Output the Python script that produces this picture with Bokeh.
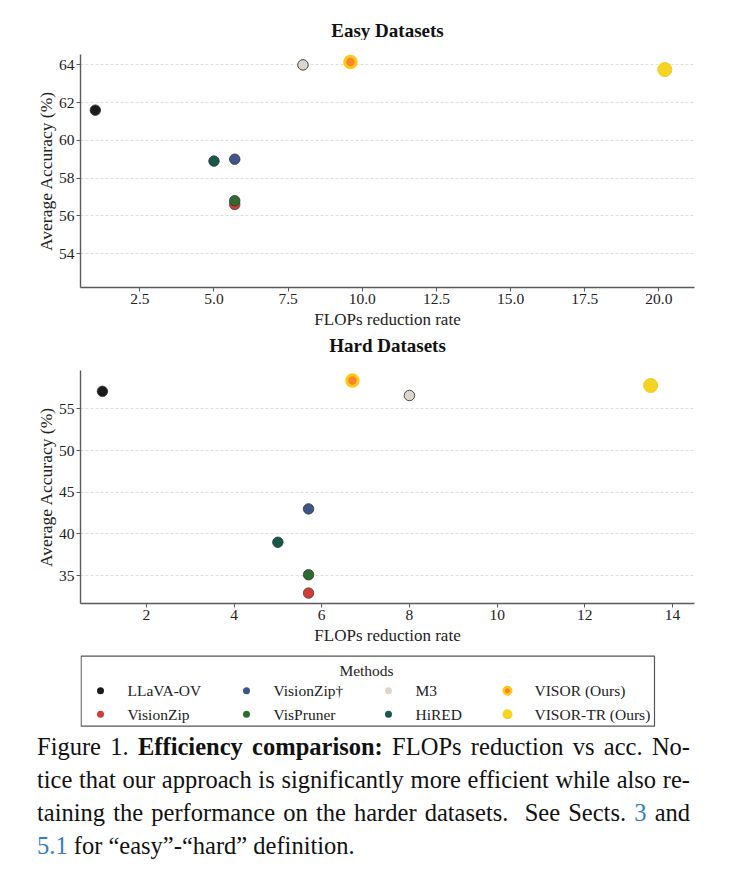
from bokeh.plotting import figure
from bokeh.models import Range1d, FixedTicker, ColumnDataSource, Div, PrintfTickFormatter
from bokeh.layouts import column
from bokeh.embed import file_html
from bokeh.resources import INLINE
from bokeh.core.properties import value

# ---------------- data ----------------
methods = ["LLaVA-OV", "VisionZip", "VisionZip\u2020", "VisPruner", "M3", "HiRED",
           "VISOR (Ours)", "VISOR-TR (Ours)"]
easy_flops = [1.0, 5.7, 5.7, 5.7, 8.0, 5.0, 9.6, 20.2]
easy_acc = [61.6, 56.6, 59.0, 56.8, 64.0, 58.9, 64.15, 63.75]
hard_flops = [1.0, 5.7, 5.7, 5.7, 8.0, 5.0, 6.7, 13.5]
hard_acc = [57.1, 32.9, 43.0, 35.1, 56.6, 39.0, 58.4, 57.8]

easy_xticks = [2.5, 5.0, 7.5, 10.0, 12.5, 15.0, 17.5, 20.0]
easy_yticks = [54, 56, 58, 60, 62, 64]
hard_xticks = [2, 4, 6, 8, 10, 12, 14]
hard_yticks = [35, 40, 45, 50, 55]

titles = ["Easy Datasets", "Hard Datasets"]
x_label = "FLOPs reduction rate"
y_label = "Average Accuracy (%)"
legend_title = "Methods"

# ---------------- styles ----------------
fill_colors = ["#1b1b1b", "#d23c34", "#3c5687", "#2d6b2f", "#ddd6cd", "#14594b", "#f7852a", "#f5d323"]
line_colors = ["#333333", "#444444", "#333333", "#333333", "#444444", "#333333", "#ffc819", "#f2cc1c"]
line_widths = [0.8, 0.8, 0.8, 0.8, 1.0, 0.8, 3.0, 1.0]
sizes = [10.5, 10.5, 10.5, 10.5, 10.5, 10.5, 11.5, 14]
leg_sizes = [7, 7, 7, 7, 7, 7, 7.5, 10]
leg_line_widths = [0, 0, 0, 0, 0, 0, 2.5, 0]

FONT = "Liberation Serif"
FRAME_L, FRAME_R = 80, 694


def pixel_fig(height):
    """A plain strip whose frame is aligned with the plots; coordinates are pixels."""
    f = figure(width=740, height=height, output_backend="svg", toolbar_location=None,
               x_range=Range1d(FRAME_L, FRAME_R), y_range=Range1d(height, 0),
               min_border_left=FRAME_L, min_border_right=740 - FRAME_R,
               min_border_top=0, min_border_bottom=0,
               x_axis_location=None, y_axis_location=None)
    f.outline_line_color = None
    f.grid.visible = False
    return f


def title_fig(text, height, yc):
    f = pixel_fig(height)
    f.text(x=[(FRAME_L + FRAME_R) / 2], y=[yc], text=[text], text_font=value(FONT),
           text_font_size="19px", text_font_style="bold", text_color="#111111",
           text_align="center", text_baseline="middle")
    return f


def make_panel(xs, ys, xr, yr, xticks, yticks, xfmt, height, top, bottom):
    p = figure(width=740, height=height, output_backend="svg", toolbar_location=None,
               x_range=Range1d(*xr), y_range=Range1d(*yr),
               min_border_left=FRAME_L, min_border_right=740 - FRAME_R,
               min_border_top=top, min_border_bottom=bottom)
    p.outline_line_color = None
    p.xgrid.visible = False
    p.ygrid.grid_line_color = "#d6d6d6"
    p.ygrid.grid_line_dash = "3 2"
    p.ygrid.grid_line_width = 0.8
    p.xaxis.ticker = FixedTicker(ticks=xticks)
    p.yaxis.ticker = FixedTicker(ticks=yticks)
    p.xaxis.formatter = PrintfTickFormatter(format=xfmt)
    p.yaxis.formatter = PrintfTickFormatter(format="%d")
    p.xaxis.axis_label = x_label
    p.yaxis.axis_label = y_label
    for ax in (p.xaxis, p.yaxis):
        ax.axis_line_color = "#5a5a5a"
        ax.axis_line_width = 1.4
        ax.major_tick_line_color = "#5a5a5a"
        ax.major_tick_line_width = 1.0
        ax.major_tick_in = 0
        ax.major_tick_out = 4
        ax.minor_tick_line_color = None
        ax.major_label_text_font = FONT
        ax.major_label_text_font_size = "15.5px"
        ax.major_label_text_color = "#222222"
        ax.major_label_standoff = 2
        ax.axis_label_text_font = FONT
        ax.axis_label_text_font_size = "17px"
        ax.axis_label_text_font_style = "normal"
        ax.axis_label_text_color = "#222222"
        ax.axis_label_standoff = 3
    p.yaxis.axis_label_text_font_size = "17.5px"
    p.yaxis.axis_label_standoff = 0
    src = ColumnDataSource(dict(x=xs, y=ys, name=methods, fill=fill_colors,
                                line=line_colors, lw=line_widths, size=sizes))
    p.scatter(x="x", y="y", size="size", marker="circle", fill_color="fill",
              line_color="line", line_width="lw", source=src)
    return p


t_easy = title_fig(titles[0], 40, 29.5)
p_easy = make_panel(easy_flops, easy_acc, (0.5, 21.2), (52.2, 64.55),
                    easy_xticks, easy_yticks, "%.1f", 291, 14, 44)
t_hard = title_fig(titles[1], 24, 14)
p_hard = make_panel(hard_flops, hard_acc, (0.5, 14.5), (31.65, 59.6),
                    hard_xticks, hard_yticks, "%d", 294, 15, 46)

# ---------------- legend ----------------
LH = 81
lg = pixel_fig(LH)
lg.quad(left=[80.6], right=[654], top=[6.7], bottom=[76.7], fill_color=None,
        line_color="#555555", line_width=1.2)
lg.text(x=[366], y=[21], text=[legend_title], text_font=value(FONT), text_font_size="15.5px",
        text_align="center", text_baseline="middle", text_color="#222222")
col_label_x = [127, 273, 415, 534]
row_y = [41.3, 64.7]
lx, ly, mx = [], [], []
for i, m in enumerate(methods):
    c, r = i // 2, i % 2
    lx.append(col_label_x[c])
    mx.append(col_label_x[c] - 27)
    ly.append(row_y[r])
lsrc = ColumnDataSource(dict(x=mx, y=ly, fill=fill_colors, line=line_colors,
                             lw=leg_line_widths, size=leg_sizes))
lg.scatter(x="x", y="y", size="size", marker="circle", fill_color="fill",
           line_color="line", line_width="lw", source=lsrc)
lg.text(x=lx, y=ly, text=methods, text_font=value(FONT), text_font_size="15.5px",
        text_align="left", text_baseline="middle", text_color="#222222")

# ---------------- caption ----------------
blue = "#2f7fc4"
line_style = "text-align:justify;text-align-last:justify;white-space:nowrap;"
cap_html = (
    f"<div style=\"font-family:'{FONT}';font-size:24.5px;line-height:33px;color:#111;"
    f"width:690px;padding-left:37px;\">"
    f"<div style='{line_style}'>Figure 1. <b>Efficiency comparison:</b> FLOPs reduction vs acc. No-</div>"
    f"<div style='{line_style}'>tice that our approach is significantly more efficient while also re-</div>"
    f"<div style='{line_style}'>taining the performance on the harder datasets. &nbsp;See Sects. "
    f"<span style='color:{blue}'>3</span> and</div>"
    f"<div style='white-space:nowrap;'><span style='color:{blue}'>5.1</span> for \u201ceasy\u201d-\u201chard\u201d definition.</div>"
    f"</div>"
)
cap = Div(text=cap_html, width=740, height=150, margin=(0, 0, 0, 0))

layout = column(t_easy, p_easy, t_hard, p_hard, lg, cap, spacing=0)
open("out.html", "w").write(file_html(layout, INLINE))
